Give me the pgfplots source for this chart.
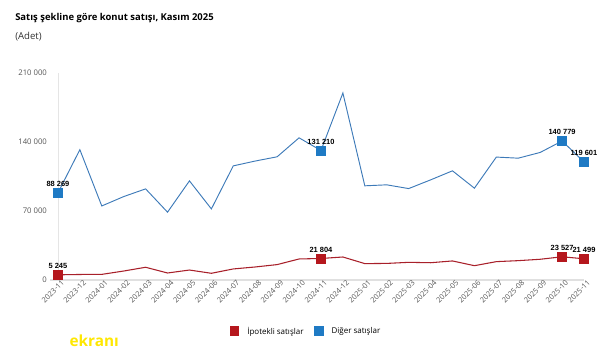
\documentclass[border=0pt]{standalone}
\usepackage{pgfplots}
\pgfplotsset{compat=1.18}
\usepackage{pgfplotstable}
\usepackage{fontspec}
\setmainfont{Open Sans}
\newfontfamily\lab{Liberation Sans}
\definecolor{blueM}{HTML}{1F7AC4}
\definecolor{blueL}{HTML}{3D7AB8}
\definecolor{redM}{HTML}{B5171D}
\definecolor{redL}{HTML}{A8202A}
\definecolor{tickc}{HTML}{555555}

\pgfplotstableread{
x diger ipotekli
0  88269  5245
1  132000 5600
2  75000  5700
3  84500  9100
4  92300  12900
5  68700  7100
6  100400 10100
7  72000  6800
8  115600 11200
9  120500 13200
10 124800 15600
11 144000 21300
12 131210 21804
13 189400 23300
14 95400  16600
15 96400  16800
16 92600  17900
17 101400 17500
18 110600 19300
19 93000  14500
20 124500 18600
21 123400 19600
22 129200 21000
23 140779 23527
24 119601 21499
}\maindata

\pgfplotstableread{
x y lab
0  88269  {88 269}
12 131210 {131 210}
23 140779 {140 779}
24 119601 {119 601}
}\bluelab

\pgfplotstableread{
x y lab
0  5245  {5 245}
12 21804 {21 804}
23 23527 {23 527}
24 21499 {21 499}
}\redlab

\begin{document}
\begin{tikzpicture}
\useasboundingbox (0,0) rectangle (459.75pt,265.5pt);
\node[anchor=base west,font=\bfseries\fontsize{7.1}{8}\selectfont,inner sep=0] at (11.25pt,249.75pt) {Satış şekline göre konut satışı, Kasım 2025};
\node[anchor=base west,font=\fontsize{7.2}{8}\selectfont,color=black!80,inner sep=0] at (11.25pt,235.5pt) {(Adet)};
\node[anchor=base west,font=\bfseries\fontsize{11.5}{12}\selectfont,color=yellow!90!orange,inner sep=0] at (52pt,6pt) {ekranı};
\begin{axis}[
  at={(37.7pt,55.5pt)}, anchor=south west,
  scale only axis, width=400.3pt, height=155.5pt,
  xmin=-0.35, xmax=24, ymin=0, ymax=210000,
  scaled y ticks=false,
  axis x line*=bottom, axis y line*=left,
  x axis line style={draw=black!12, line width=0.8pt},
  y axis line style={draw=none},
  xtick={0,...,24},
  xticklabels={2023-11,2023-12,2024-01,2024-02,2024-03,2024-04,2024-05,2024-06,2024-07,2024-08,2024-09,2024-10,2024-11,2024-12,2025-01,2025-02,2025-03,2025-04,2025-05,2025-06,2025-07,2025-08,2025-09,2025-10,2025-11},
  xticklabel style={rotate=45, anchor=north east, font=\fontsize{5.6}{6}\selectfont, color=tickc, inner sep=1pt, xshift=3pt},
  major tick length=0pt,
  ytick={0,70000,140000,210000},
  yticklabels={0,70 000,140 000,210 000},
  yticklabel style={font=\fontsize{5.8}{6}\selectfont, color=tickc, anchor=east, xshift=1pt},
  clip=false,
  legend style={at={(0.48,-0.20)}, anchor=north, draw=none, legend columns=2, font=\fontsize{6}{7}\selectfont, column sep=4pt, /tikz/every even column/.append style={column sep=6pt}},
  legend image code/.code={\fill[#1] (0pt,-3pt) rectangle (7pt,4pt);},
]
\draw[black!10, line width=0.6pt] (axis cs:0,0) -- (axis cs:0,210000);
\addplot[redL, line width=0.8pt, forget plot] table[x=x,y=ipotekli] {\maindata};
\addplot[blueL, line width=0.7pt, forget plot] table[x=x,y=diger] {\maindata};
\addplot[only marks, mark=square*, mark size=3.3pt, mark options={fill=redM, draw=redM},
  nodes near coords, point meta=explicit symbolic,
  every node near coord/.append style={font=\lab\bfseries\fontsize{5.6}{6}\selectfont, color=black, yshift=1pt},
  forget plot] table[x=x,y=y,meta=lab] {\redlab};
\addplot[only marks, mark=square*, mark size=3.3pt, mark options={fill=blueM, draw=blueM},
  nodes near coords, point meta=explicit symbolic,
  every node near coord/.append style={font=\lab\bfseries\fontsize{5.6}{6}\selectfont, color=black, yshift=1pt},
  forget plot] table[x=x,y=y,meta=lab] {\bluelab};
\addlegendimage{fill=redM, draw=none}
\addlegendentry{İpotekli satışlar}
\addlegendimage{fill=blueM, draw=none}
\addlegendentry{Diğer satışlar}
\end{axis}
\end{tikzpicture}
\end{document}
